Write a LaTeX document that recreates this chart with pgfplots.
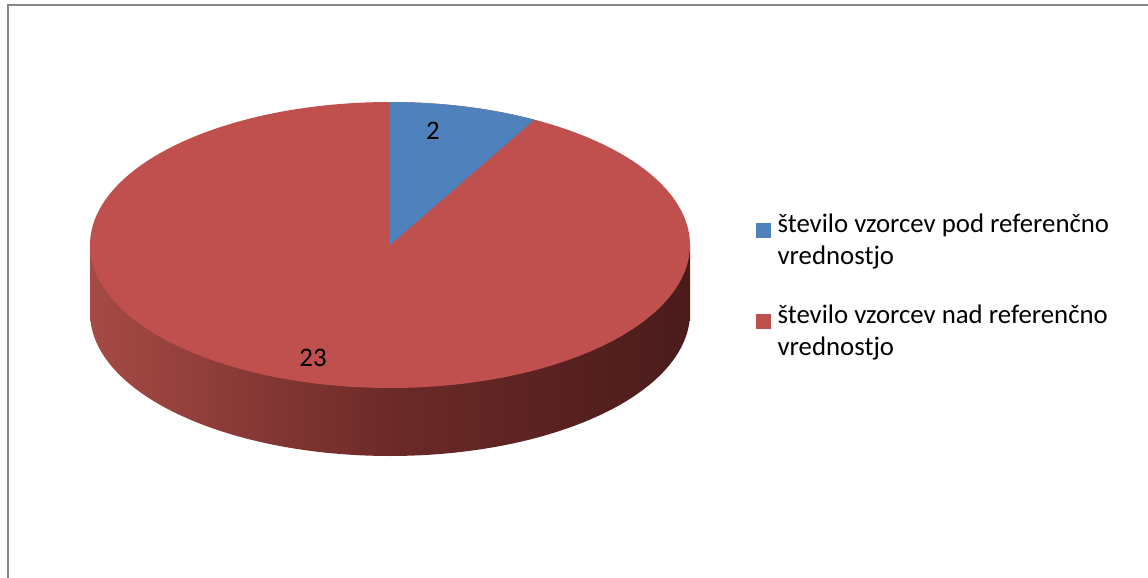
\documentclass[border=0pt]{standalone}
\usepackage{fontspec}
\setmainfont{Carlito}
\usepackage{pgfplots}
\pgfplotsset{compat=1.18}
\definecolor{pieblue}{HTML}{4F81BD}
\definecolor{piered}{HTML}{C0504D}
\definecolor{sideL}{HTML}{A64A45}
\definecolor{sideM}{HTML}{6C2A28}
\definecolor{sideR}{HTML}{4A1B1B}
\definecolor{framegray}{HTML}{868686}
\begin{document}
\fontsize{26.8}{31.5}\selectfont
\begin{tikzpicture}
\def\va{2}\def\vb{23}
\pgfmathsetmacro{\angA}{90-360*\va/(\va+\vb)}
\begin{axis}[name=ax,width=1148pt,height=578pt,scale only axis,
  xmin=0,xmax=1148,ymin=0,ymax=578,y dir=reverse,hide axis,clip=false,
  legend style={at={(axis cs:756,212)},anchor=north west,draw=none,fill=none,
    font=\fontsize{26.8}{31.5}\selectfont,cells={align=left},row sep=33pt,
    inner sep=0pt,/tikz/every odd column/.append style={column sep=5pt}},
  legend cell align=left]
% frame
\draw[framegray,line width=2pt] (axis cs:7.5,578) -- (axis cs:7.5,5.5) -- (axis cs:1148,5.5);
% side of the pie
\addplot[forget plot,draw=none,left color=sideL,right color=sideR,middle color=sideM]
  coordinates {(90,245) (690,245) (690,320) (90,320)} -- cycle;
\addplot[forget plot,draw=none,left color=sideL,right color=sideR,middle color=sideM,
  domain=0:360,samples=181] ({390+300*cos(x)},{313-143*sin(x)}) -- cycle;
% top of the pie
\addplot[forget plot,fill=piered,draw=none,domain=0:360,samples=181]
  ({390+300*cos(x)},{245-143*sin(x)}) -- cycle;
\addplot[forget plot,fill=pieblue,draw=none,domain=\angA:90,samples=40]
  ({390+300*cos(x)},{245-143*sin(x)}) -- (axis cs:390,245) -- cycle;
% labels
\node at (axis cs:433,131) {2};
\node at (axis cs:313,358) {23};
% legend
\addlegendimage{legend image code/.code={\fill[pieblue] (0pt,4pt) rectangle (14pt,18pt);}}
\addlegendentry{število vzorcev pod referenčno\\vrednostjo}
\addlegendimage{legend image code/.code={\fill[piered] (0pt,4pt) rectangle (14pt,18pt);}}
\addlegendentry{število vzorcev nad referenčno\\vrednostjo}
\end{axis}
\pgfresetboundingbox
\path[use as bounding box] (ax.south west) rectangle (ax.north east);
\end{tikzpicture}
\end{document}
